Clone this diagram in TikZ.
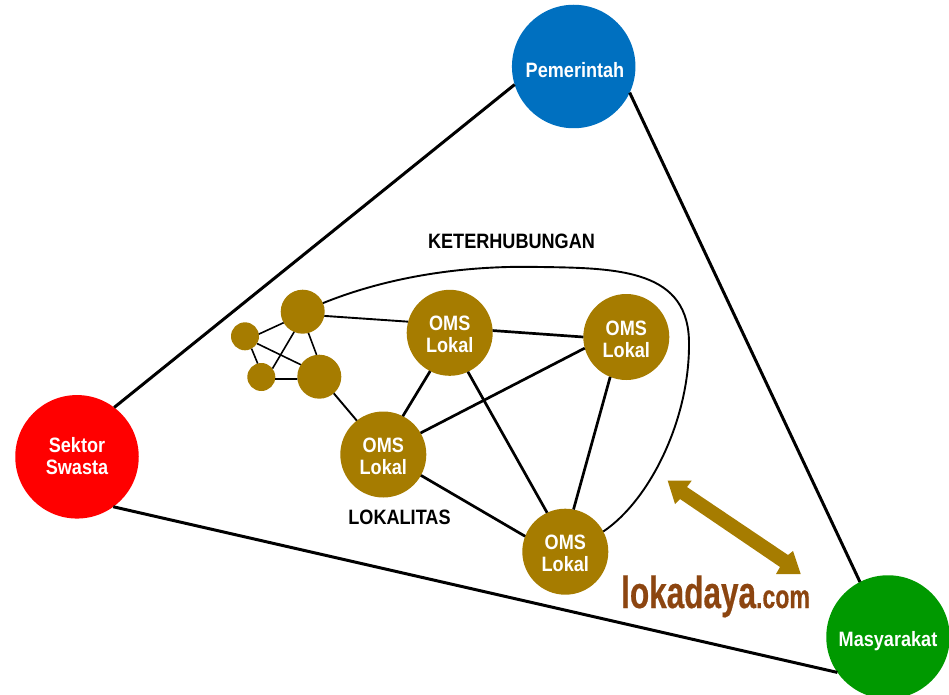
\documentclass[tikz,border=0pt]{standalone}
\usepackage{fontspec}
\setmainfont{Liberation Sans}
\newfontfamily\condfont[FakeStretch=0.87]{Liberation Sans}
\newfontfamily\logofont[FakeStretch=0.70,FakeBold=0.4]{Liberation Sans}
\definecolor{gold}{HTML}{A67C00}
\definecolor{pblue}{HTML}{0070C0}
\definecolor{sred}{HTML}{FF0000}
\definecolor{mgreen}{HTML}{009900}
\definecolor{logobrown}{HTML}{8C4510}
\newcommand{\lowered}[2]{\raisebox{-#1}[0pt][0pt]{#2}}
\tikzset{
  disc/.style={circle,inner sep=0pt,outer sep=0pt,align=center,text=white,font=\condfont\bfseries\fontsize{20.8}{22}\selectfont},
  bigdisc/.style={disc,minimum size=123.5pt},
  omsdisc/.style={disc,fill=gold,minimum size=86pt},
  largedot/.style={disc,fill=gold,minimum size=44pt},
  smalldot/.style={disc,fill=gold,minimum size=28pt},
  sideline/.style={line width=3pt,black},
  omsline/.style={line width=2.7pt,black},
  linkline/.style={line width=1.9pt,black},
  thinline/.style={line width=1.6pt,black},
  caption/.style={anchor=base,inner sep=0pt,font=\condfont\bfseries\fontsize{20.8}{22}\selectfont,text=black},
}
\begin{document}
\begin{tikzpicture}[x=1pt,y=-1pt]
\useasboundingbox (0,0) rectangle (949,695);
\node[bigdisc,fill=pblue] (pem) at (573.7,66.5) {\lowered{11pt}{\hspace*{2.6pt}Pemerintah}};
\node[bigdisc,fill=sred] (sek) at (77,456.8) {\lowered{7pt}{Sektor}\\\lowered{7pt}{Swasta}};
\node[bigdisc,fill=mgreen] (mas) at (888,637) {\lowered{9pt}{Masyarakat}};
\node[omsdisc] (o1) at (449.7,332.8) {\lowered{9pt}{OMS}\\\lowered{9pt}{Lokal}};
\node[omsdisc] (o2) at (626.3,337) {\lowered{9.8pt}{OMS}\\\lowered{9.8pt}{Lokal}};
\node[omsdisc] (o3) at (383.3,454.5) {\lowered{9pt}{OMS}\\\lowered{9pt}{Lokal}};
\node[omsdisc] (o4) at (565.3,551.7) {\lowered{8.6pt}{OMS}\\\lowered{8.6pt}{Lokal}};
\node[largedot] (a) at (302.7,311.7) {};
\node[largedot] (b) at (319.3,376.7) {};
\node[smalldot] (s1) at (245,336.3) {};
\node[smalldot] (s2) at (261.3,377) {};
\draw[sideline] (pem.197.7) -- (sek.53.7);
\draw[sideline] (sek.-54.4) -- (mas.215.7);
\draw[sideline] (pem.-25.4) -- (mas.117.4);
\draw[omsline] (o1.3) -- (o2.180);
\draw[omsline] (o1.243.4) -- (o3.63.3);
\draw[omsline] (o1.-65) -- (o4.115.8);
\draw[omsline] (o2.195.3) -- (o3.30.7);
\draw[omsline] (o2.248.9) -- (o4.79.1);
\draw[omsline] (o3.-29.7) -- (o4.159.6);
\draw[linkline] (a.-11) -- (o1.165.3);
\draw[linkline] (b.-49.6) -- (o3.128.2);
\draw[thinline] (a.210.9) -- (s1.9.3);
\draw[thinline] (a.-113) -- (s2.37.6);
\draw[thinline] (a.-75.5) -- (b.97.2);
\draw[thinline] (s1.-62.7) -- (s2.105.8);
\draw[thinline] (s1.-31) -- (b.147.4);
\draw[thinline] (s2.-8) -- (b.186.7);
\draw[linkline] (a.23) .. controls (385,278) and (460,265) .. (540,267)
  .. controls (620,268) and (690,270) .. (689,345)
  .. controls (689,420) and (650,500) .. (o4.28);
\fill[gold] (667.7,480.7) -- (691.7,480.7) -- (687,487) -- (788,555) -- (793,551)
  -- (800.7,574) -- (776,574) -- (780,567) -- (680,499) -- (675,504) -- cycle;
\node[caption] (ket) at (511.5,248) {KETERHUBUNGAN};
\node[caption] (lok) at (399.5,524) {LOKALITAS};
\node[anchor=base west,inner sep=0pt,text=logobrown] (logo) at (621,608)
  {\logofont\bfseries{\fontsize{45}{45}\selectfont lokadaya}{\fontsize{33}{33}\selectfont .com}};
\end{tikzpicture}
\end{document}
